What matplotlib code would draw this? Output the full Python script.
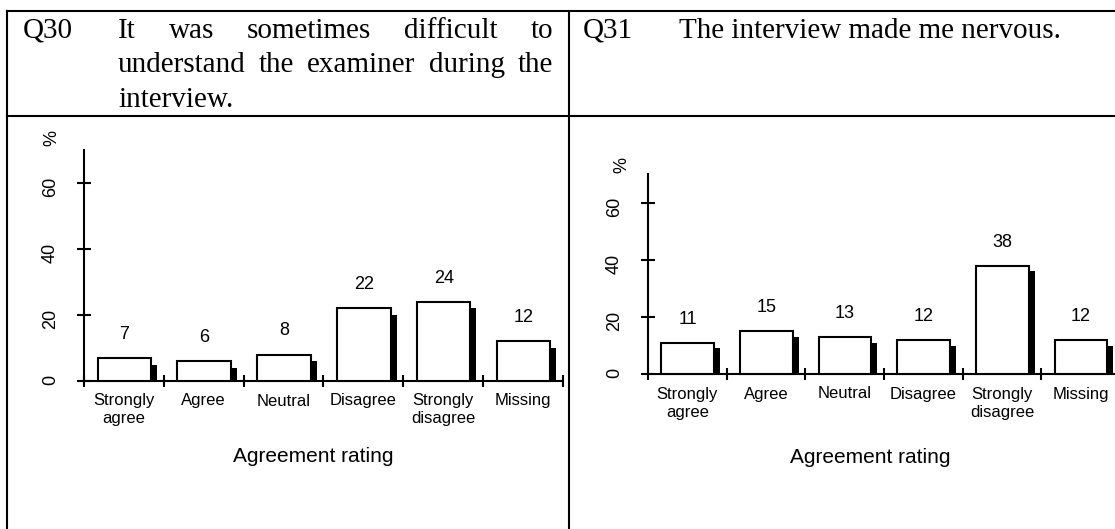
import matplotlib
matplotlib.use("Agg")
import matplotlib.pyplot as plt
import numpy as np

# data
categories = ["Strongly\nagree", "Agree", "Neutral", "Disagree", "Strongly\ndisagree", "Missing"]
q30_values = [7, 6, 8, 22, 24, 12]
q31_values = [11, 15, 13, 12, 38, 12]
yticks = [0, 20, 40, 60]

q30_label = "Q30"
q30_lines = ["It was sometimes difficult to", "understand the examiner during the", "interview."]
q31_label = "Q31"
q31_lines = ["The interview made me nervous."]

W, H = 1115, 529
plt.rcParams['font.family'] = ['Liberation Sans', 'DejaVu Sans']

fig = plt.figure(figsize=(W / 100, H / 100), dpi=100)

# background axes in pixel units for the table frame and the question texts
bg = fig.add_axes([0, 0, 1, 1])
bg.set_xlim(0, W)
bg.set_ylim(H, 0)
bg.axis("off")

lw = 1.5
bg.plot([7, W], [11, 11], color="black", lw=lw)
bg.plot([7, W], [116, 116], color="black", lw=lw)
bg.plot([7, 7], [11, H], color="black", lw=lw)
bg.plot([569, 569], [11, H], color="black", lw=lw)

serif = dict(family="Liberation Serif", fontsize=21, va="baseline")
baselines = [38, 72.5, 107]
renderer = fig.canvas.get_renderer()


def justify(words, x0, x1, y):
    texts = [bg.text(0, y, w, **serif) for w in words]
    widths = [t.get_window_extent(renderer).width for t in texts]
    gap = (x1 - x0 - sum(widths)) / (len(words) - 1)
    x = x0
    for t, w in zip(texts, widths):
        t.set_x(x)
        x += w + gap


def header(qlabel, lines, qx, tx, right):
    bg.text(qx, baselines[0], qlabel, **serif)
    for i, line in enumerate(lines):
        if i < len(lines) - 1:
            justify(line.split(), tx, right, baselines[i])
        else:
            bg.text(tx, baselines[i], line, **serif)


header(q30_label, q30_lines, 23, 118, 553)
header(q31_label, q31_lines, 583, 679, 1100)


def panel(values, x0, x1, y_zero, y_top, xlab_pos, pct_off):
    ax = fig.add_axes([x0 / W, (H - y_zero) / H, (x1 - x0) / W, (y_zero - y_top) / H])
    ax.set_facecolor("none")
    idx = np.arange(len(values))
    vals = np.array(values)
    ax.bar(idx + 0.84, vals - 2, width=0.075, align="edge", color="black",
           zorder=2, clip_on=False)
    ax.bar(idx + 0.17, vals, width=0.67, align="edge", facecolor="white",
           edgecolor="black", linewidth=lw, zorder=3, clip_on=False)
    for i, v in enumerate(values):
        ax.annotate(str(v), (i + 0.505, v), xytext=(0, 17), textcoords="offset points",
                    ha="center", va="center", fontsize=13)

    ax.set_xlim(0, len(values))
    ax.set_ylim(0, 70)
    for s in ["top", "right"]:
        ax.spines[s].set_visible(False)
    for s in ["left", "bottom"]:
        ax.spines[s].set_linewidth(lw)

    ax.set_yticks(yticks)
    ax.tick_params(axis="y", direction="inout", length=10, width=lw,
                   labelsize=13, labelrotation=90, pad=13)
    ax.set_xticks(range(len(values) + 1))
    ax.set_xticklabels([])
    ax.tick_params(axis="x", which="major", direction="inout", length=9, width=lw)
    ax.set_xticks(idx + 0.5, minor=True)
    ax.set_xticklabels(categories, minor=True, fontsize=12, linespacing=1.25)
    ax.tick_params(axis="x", which="minor", length=0, pad=9)

    ax.annotate("%", xy=(0, 73.5), xycoords=("axes fraction", "data"),
                xytext=(pct_off, 0), textcoords="offset points", rotation=90,
                ha="center", va="center", fontsize=13, annotation_clip=False)

    ax.set_xlabel("Agreement rating", fontsize=15)
    ax.xaxis.set_label_coords(*xlab_pos)
    ax.xaxis.label.set_va("center")
    return ax


panel(q30_values, 84, 563, 381, 150, (0.478, -0.325), -23)
panel(q31_values, 648, 1120, 374, 174.5, (0.47, -0.421), -19)

fig.savefig("out.png", dpi=100)
